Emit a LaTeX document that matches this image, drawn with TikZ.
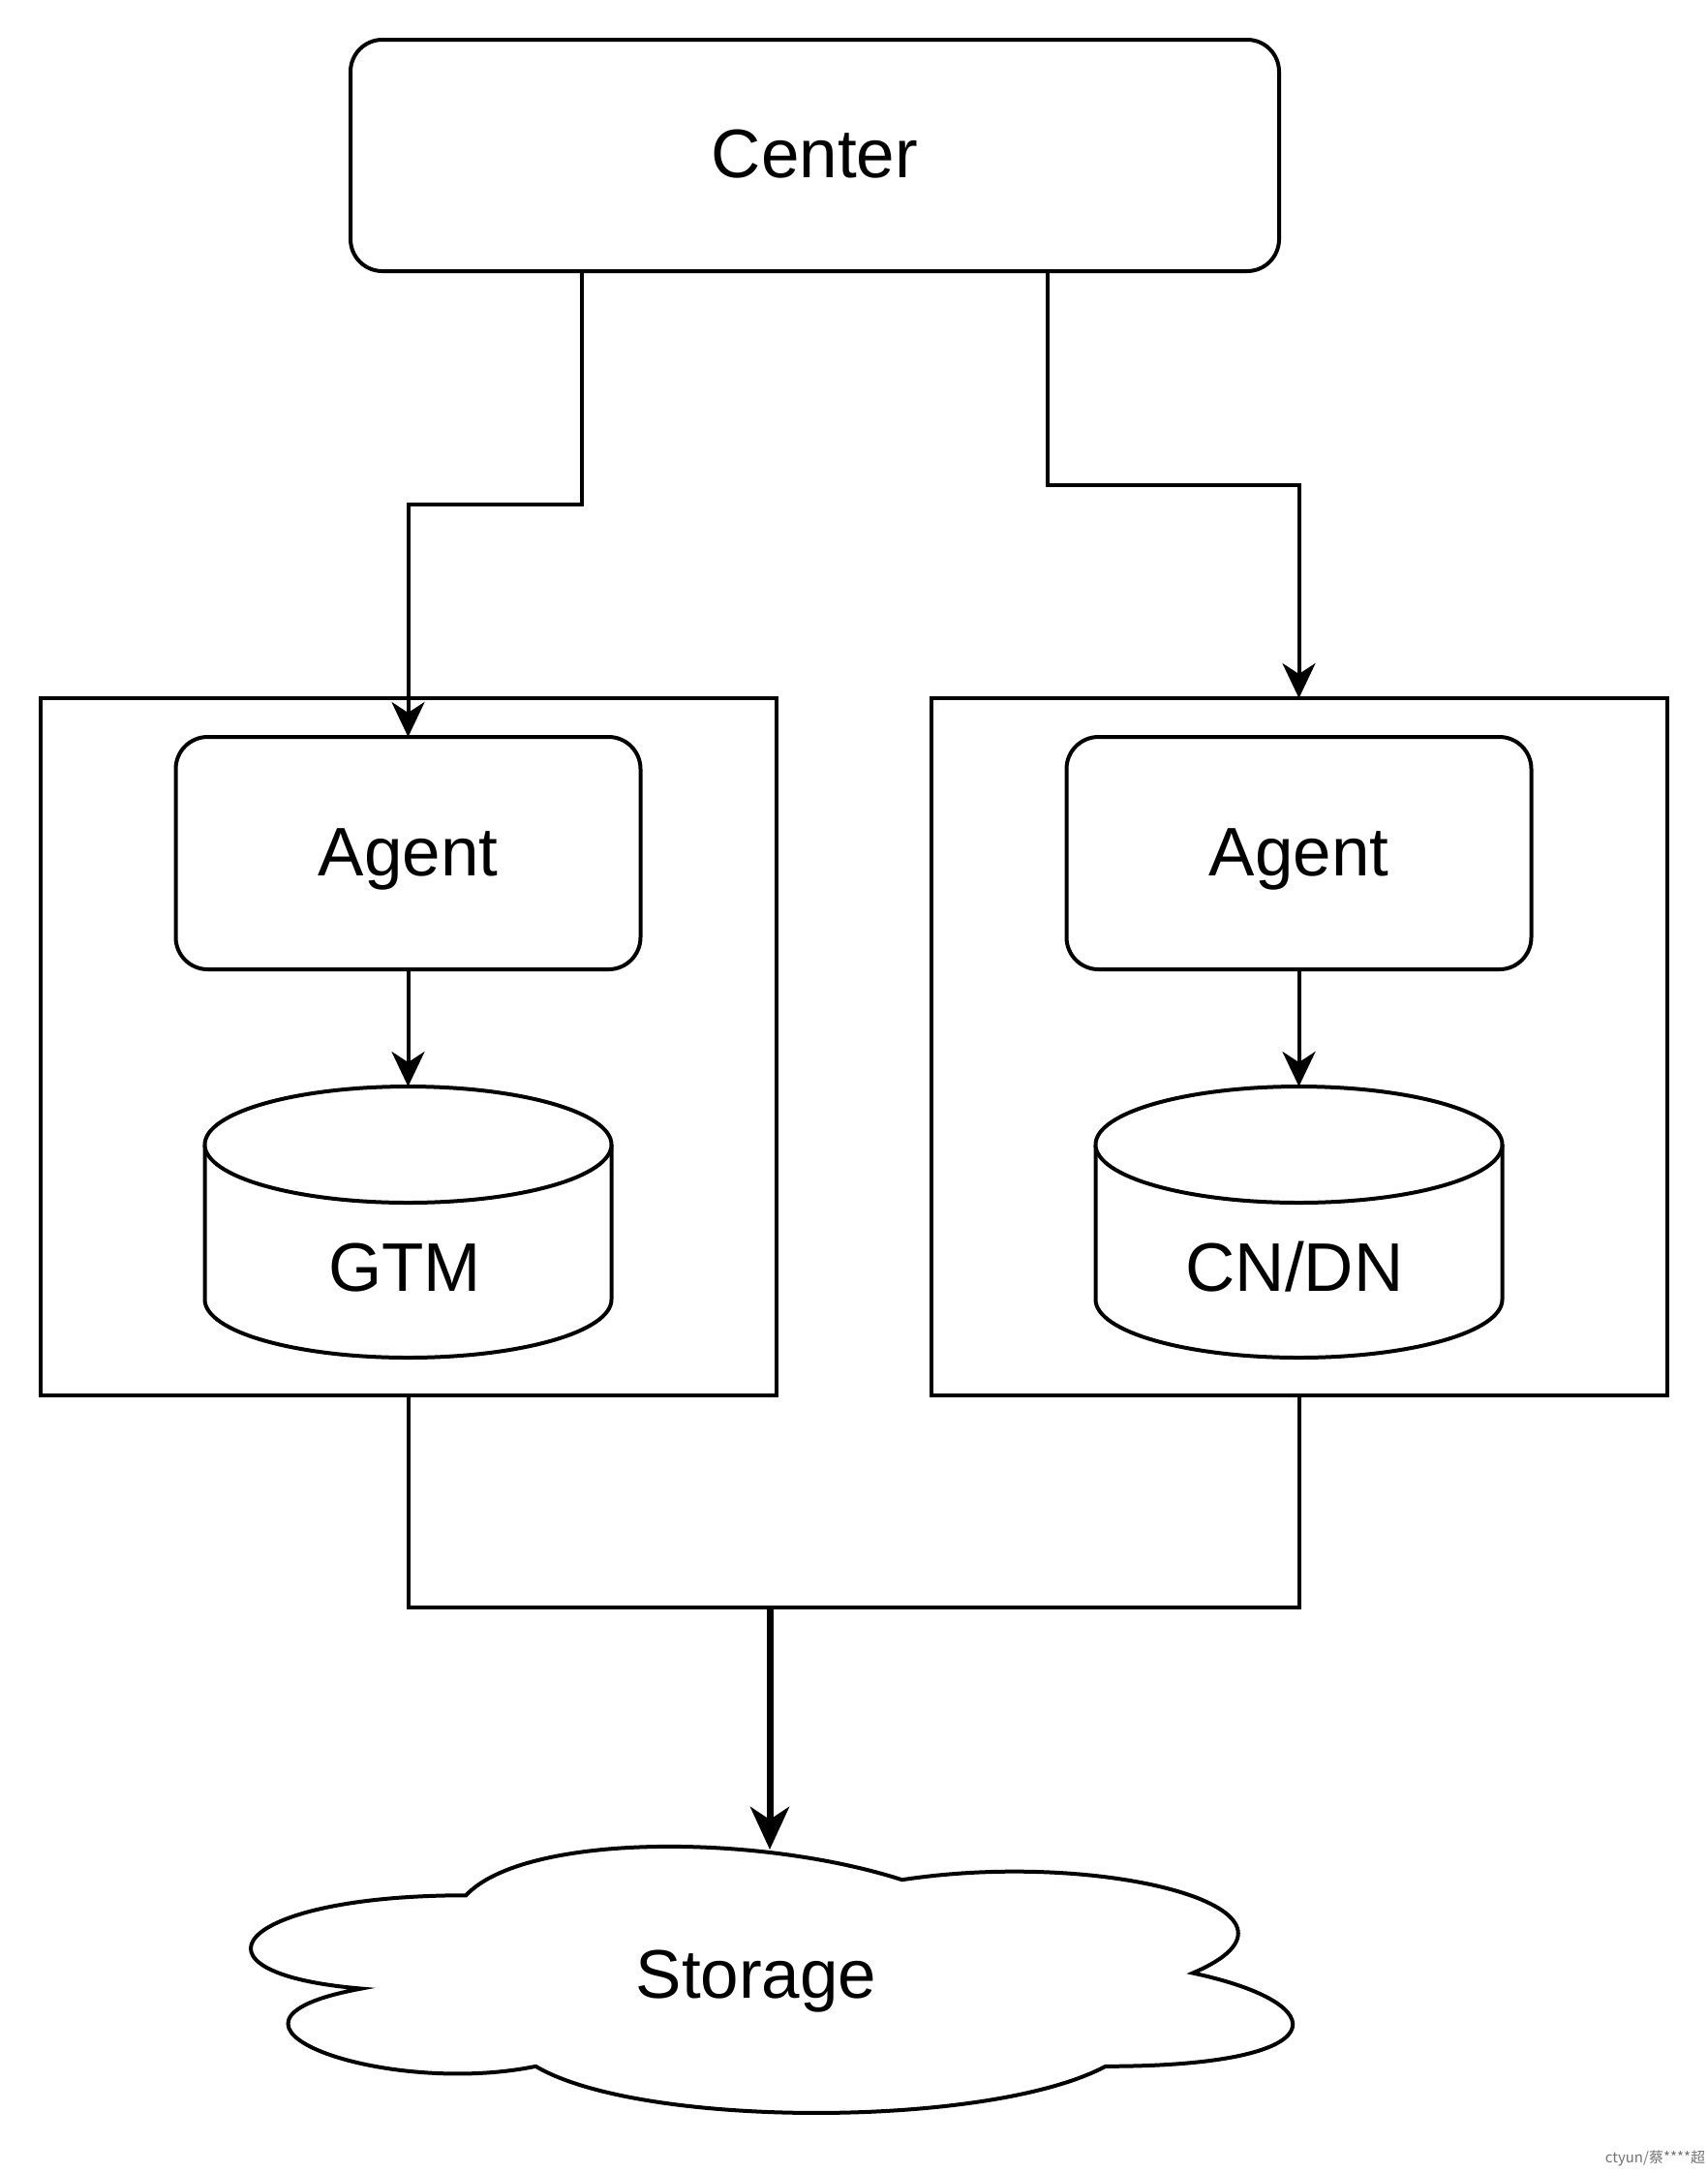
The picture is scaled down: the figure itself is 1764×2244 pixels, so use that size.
\documentclass[tikz,border=0pt]{standalone}
\usepackage{fontspec}
\setmainfont{Liberation Sans}
\newfontfamily\cjk{Noto Sans CJK SC}
\usetikzlibrary{arrows.meta}
\begin{document}
\begin{tikzpicture}[x=1pt,y=-1pt,
  every node/.style={inner sep=0pt,outer sep=0pt},
  lbl/.style={font=\fontsize{71}{85}\selectfont,text height=51pt,text depth=5pt},
  roundbox/.style={draw,line width=4pt,rounded corners=33pt,fill=white,lbl},
  container/.style={draw,line width=4pt,minimum width=760pt,minimum height=720pt},
  conn/.style={line width=4pt},
  arr/.style={line width=4pt,-{Stealth[length=36pt,width=34pt,inset=11pt]}},
  bigarr/.style={line width=7pt,-{Stealth[length=44pt,width=40pt,inset=13pt]}},
  cyl/.style={draw,line width=4pt,fill=white}]
\useasboundingbox[fill=white] (0,0) rectangle (1764,2244);

% Center
\node[roundbox,minimum width=959pt,minimum height=239pt] (center) at (841.5,160.5) {Center};

% containers
\node[container] (lbox) at (421.5,1081) {};
\node[container] (rbox) at (1341.5,1081) {};

% agents
\node[roundbox,minimum width=480pt,minimum height=240pt] (lagent) at (421.5,881) {Agent};
\node[roundbox,minimum width=480pt,minimum height=240pt] (ragent) at (1341.5,881) {Agent};

% cylinders
\draw[cyl] (211.5,1182) -- (211.5,1342) arc[start angle=180,end angle=360,x radius=210pt,y radius=60pt] -- (631.5,1182);
\draw[cyl] (421.5,1182) ellipse [x radius=210pt,y radius=60pt];
\node[lbl] (gtm) at (421.5,1262) {};
\node[lbl] (gtmtxt) at (418,1310) {GTM};

\draw[cyl] (1131.5,1182) -- (1131.5,1342) arc[start angle=180,end angle=360,x radius=210pt,y radius=60pt] -- (1551.5,1182);
\draw[cyl] (1341.5,1182) ellipse [x radius=210pt,y radius=60pt];
\node[lbl] (cndn) at (1341.5,1262) {};
\node[lbl] (cndntxt) at (1337,1310) {CN/DN};

\coordinate (gtmtop) at (421.5,1122);
\coordinate (cndntop) at (1341.5,1122);

% cloud
\draw[line width=4pt,fill=white]
  (481.25,1957.25)
  .. controls (241.05,1957.25) and (181,2037.5) .. (373.16,2053.55)
  .. controls (181,2088.86) and (397.18,2165.9) .. (553.31,2133.8)
  .. controls (661.4,2198) and (1021.7,2198) .. (1141.8,2133.8)
  .. controls (1382,2133.8) and (1382,2069.6) .. (1231.875,2037.5)
  .. controls (1382,1973.3) and (1141.8,1909.1) .. (931.625,1941.2)
  .. controls (781.5,1893.05) and (541.3,1893.05) .. (481.25,1957.25) -- cycle;
\node[lbl] (storage) at (781,2040) {Storage};
\coordinate (stortop) at (795,1910);

% connectors
\draw[arr] ([xshift=-240.5pt]center.south) -- ++(0,241) -| (lagent.north);
\draw[arr] ([xshift=240.5pt]center.south) -- ++(0,221) -| (rbox.north);
\draw[arr] (lagent.south) -- (gtmtop);
\draw[arr] (ragent.south) -- (cndntop);
\draw[conn] (lbox.south) -- ++(0,219) -| (rbox.south);
\coordinate (junc) at (795,1660);
\draw[bigarr] (junc) -- (stortop);

% watermark
\node[font=\cjk\fontsize{15}{18}\selectfont,text=black!55,anchor=east] (wm) at (1761,2229) {ctyun/蔡****超};
\end{tikzpicture}
\end{document}
